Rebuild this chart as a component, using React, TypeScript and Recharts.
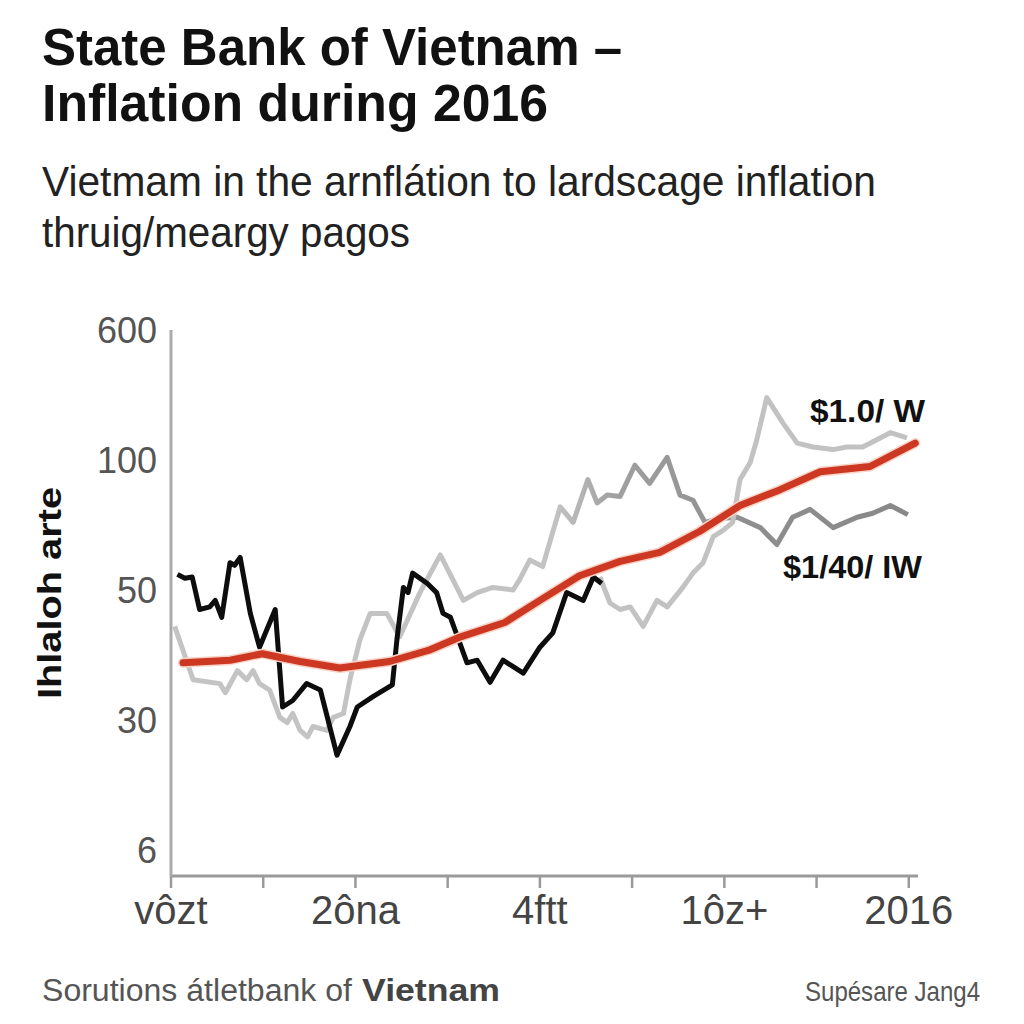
import React from 'react';
import { LineChart, Line, XAxis, YAxis } from 'recharts';

// x ticks are evenly spaced periods; only every other one carries a label
const xTicks = [0, 1, 2, 3, 4, 5, 6, 7, 8];
const xLabels = ['vôzt', '', '2ôna', '', '4ftt', '', '1ôz+', '', '2016'];

// y axis is drawn with evenly spaced, non-linear labels
const yTicks = [0, 1, 2, 3, 4];
const yLabels = ['6', '30', '50', '100', '600'];

// [x, y] in axis units
const redTrend: [number, number][] = [
  [0.13, 1.44], [0.64, 1.46], [0.99, 1.51], [1.4, 1.45], [1.83, 1.4], [2.37, 1.45],
  [2.81, 1.54], [3.14, 1.64], [3.62, 1.75], [4.0, 1.92], [4.43, 2.11], [4.87, 2.22],
  [5.3, 2.29], [5.73, 2.45], [6.17, 2.65], [6.6, 2.77], [7.04, 2.91], [7.58, 2.95],
  [8.07, 3.13],
];

const blackSeries: [number, number][] = [
  [0.07, 2.12], [0.15, 2.09], [0.23, 2.1], [0.31, 1.85], [0.42, 1.87], [0.48, 1.92],
  [0.55, 1.79], [0.64, 2.21], [0.69, 2.19], [0.75, 2.25], [0.86, 1.82], [0.96, 1.56],
  [1.13, 1.85], [1.21, 1.1], [1.32, 1.15], [1.47, 1.28], [1.62, 1.23], [1.8, 0.73],
  [1.94, 0.95], [2.02, 1.1], [2.19, 1.18], [2.4, 1.27], [2.45, 1.62], [2.52, 2.02],
  [2.57, 1.98], [2.62, 2.13], [2.78, 2.05], [2.88, 1.98], [2.95, 1.82], [3.03, 1.79],
  [3.21, 1.44], [3.32, 1.46], [3.46, 1.29], [3.6, 1.46], [3.71, 1.41], [3.82, 1.36],
  [4.0, 1.56], [4.14, 1.67], [4.29, 1.98], [4.47, 1.92], [4.58, 2.1], [4.67, 2.05],
];

const lowerGray: [number, number][] = [
  [0.04, 1.72], [0.24, 1.31], [0.53, 1.28], [0.59, 1.21], [0.72, 1.38], [0.82, 1.31],
  [0.89, 1.38], [0.96, 1.28], [1.07, 1.23], [1.18, 1.02], [1.26, 0.98], [1.32, 1.05],
  [1.4, 0.92], [1.48, 0.87], [1.54, 0.95], [1.69, 0.92], [1.76, 1.02], [1.87, 1.05],
  [1.94, 1.31], [2.05, 1.62], [2.16, 1.82], [2.34, 1.82], [2.48, 1.64], [2.7, 1.98],
  [2.92, 2.27], [3.17, 1.92], [3.32, 1.98], [3.49, 2.02], [3.71, 2.0], [3.78, 2.08],
  [3.89, 2.23], [4.03, 2.18], [4.22, 2.64], [4.36, 2.52], [4.52, 2.85], [4.62, 2.67],
  [4.73, 2.73], [4.87, 2.72], [5.03, 2.96], [5.19, 2.82], [5.38, 3.02], [5.52, 2.73],
  [5.66, 2.69], [5.79, 2.52], [5.95, 2.55], [6.14, 2.56], [6.39, 2.48], [6.57, 2.35],
  [6.74, 2.56], [6.93, 2.62], [7.18, 2.48], [7.44, 2.56], [7.61, 2.59], [7.8, 2.65],
  [7.99, 2.58],
];

const upperGray: [number, number][] = [
  [4.65, 2.1], [4.76, 1.9], [4.87, 1.85], [4.98, 1.87], [5.12, 1.72], [5.27, 1.92],
  [5.38, 1.87], [5.55, 2.02], [5.66, 2.13], [5.77, 2.21], [5.88, 2.41], [5.99, 2.46],
  [6.09, 2.52], [6.17, 2.85], [6.28, 2.98], [6.35, 3.15], [6.46, 3.48], [6.64, 3.28],
  [6.79, 3.13], [6.96, 3.1], [7.18, 3.08], [7.33, 3.1], [7.5, 3.1], [7.8, 3.21],
  [7.98, 3.17],
];

const toRows = (pts: [number, number][]) => pts.map(([x, y]) => ({ x, y }));

const FONT = '"Liberation Sans", Arial, sans-serif';

export default function App() {
  return (
    <div style={{ position: 'relative', width: 1024, height: 1024, background: '#fff', fontFamily: FONT }}>
      <style>{'body{margin:0;background:#fff}'}</style>
      <LineChart width={1024} height={1024} margin={{ top: 330, right: 106, bottom: 88, left: 91 }}>
        <defs>
          <linearGradient id="grayFade" x1="0" y1="0" x2="1" y2="0">
            <stop offset="0" stopColor="#c4c4c4" />
            <stop offset="0.52" stopColor="#c2c2c2" />
            <stop offset="0.6" stopColor="#a0a0a0" />
            <stop offset="0.78" stopColor="#8e8e8e" />
            <stop offset="1" stopColor="#888888" />
          </linearGradient>
        </defs>
        <XAxis
          type="number"
          dataKey="x"
          domain={[0, 8.1]}
          ticks={xTicks}
          tickFormatter={(v: number) => xLabels[v] ?? ''}
          axisLine={{ stroke: '#9a9a9a', strokeWidth: 3 }}
          tickLine={{ stroke: '#9a9a9a', strokeWidth: 2.5 }}
          tickSize={12}
          tickMargin={8}
          height={60}
          tick={{ fontSize: 40, fill: '#444', fontFamily: FONT }}
          interval={0}
        />
        <YAxis
          type="number"
          dataKey="y"
          domain={[-0.2, 4]}
          ticks={yTicks}
          tickFormatter={(v: number) => yLabels[v] ?? ''}
          axisLine={{ stroke: '#ababab', strokeWidth: 3 }}
          tickLine={false}
          tickSize={0}
          tickMargin={14}
          width={80}
          tick={{ fontSize: 36, fill: '#555', fontFamily: FONT }}
          interval={0}
        />
        <Line data={toRows(lowerGray)} dataKey="y" type="linear" stroke="url(#grayFade)" strokeWidth={5}
          strokeLinejoin="round" dot={false} isAnimationActive={false} />
        <Line data={toRows(upperGray)} dataKey="y" type="linear" stroke="#c2c2c2" strokeWidth={5}
          strokeLinejoin="round" dot={false} isAnimationActive={false} />
        <Line data={toRows(blackSeries)} dataKey="y" type="linear" stroke="#0d0d0d" strokeWidth={5}
          strokeLinejoin="round" dot={false} isAnimationActive={false} />
        <Line data={toRows(redTrend)} dataKey="y" type="linear" stroke="#f9d3c7" strokeWidth={10}
          strokeLinejoin="round" strokeLinecap="round" dot={false} isAnimationActive={false} />
        <Line data={toRows(redTrend)} dataKey="y" type="linear" stroke="#cc3822" strokeWidth={7}
          strokeLinejoin="round" strokeLinecap="round" dot={false} isAnimationActive={false} />
      </LineChart>

      <svg width={1024} height={1024} style={{ position: 'absolute', left: 0, top: 0, pointerEvents: 'none' }}
        fontFamily={FONT}>
        <text x={42} y={65} fontSize={51} fontWeight="bold" fill="#111" textLength={580} lengthAdjust="spacingAndGlyphs">
          State Bank of Vietnam –
        </text>
        <text x={42} y={121} fontSize={51} fontWeight="bold" fill="#111" textLength={506} lengthAdjust="spacingAndGlyphs">
          Inflation during 2016
        </text>
        <text x={42} y={196} fontSize={42} fill="#222" textLength={834} lengthAdjust="spacingAndGlyphs">
          Vietmam in the arnflátion to lardscage inflation
        </text>
        <text x={42} y={247} fontSize={42} fill="#222" textLength={368} lengthAdjust="spacingAndGlyphs">
          thruig/meargy pagos
        </text>
        <text transform="translate(61,593) rotate(-90)" textAnchor="middle" fontSize={34} fontWeight="bold"
          fill="#111" textLength={212} lengthAdjust="spacingAndGlyphs">
          Ihlaloh arte
        </text>
        <text x={810} y={422} fontSize={32} fontWeight="bold" fill="#111" textLength={115} lengthAdjust="spacingAndGlyphs">
          $1.0/ W
        </text>
        <text x={783} y={578} fontSize={32} fontWeight="bold" fill="#111" textLength={139} lengthAdjust="spacingAndGlyphs">
          $1/40/ IW
        </text>
        <text x={42} y={1001} fontSize={31} fill="#555" textLength={310} lengthAdjust="spacingAndGlyphs">
          Sorutions átletbank of
        </text>
        <text x={362} y={1001} fontSize={31} fontWeight="bold" fill="#444" textLength={138} lengthAdjust="spacingAndGlyphs">
          Vietnam
        </text>
        <text x={805} y={1001} fontSize={28} fill="#555" textLength={175} lengthAdjust="spacingAndGlyphs">
          Supésare Jang4
        </text>
      </svg>
    </div>
  );
}
